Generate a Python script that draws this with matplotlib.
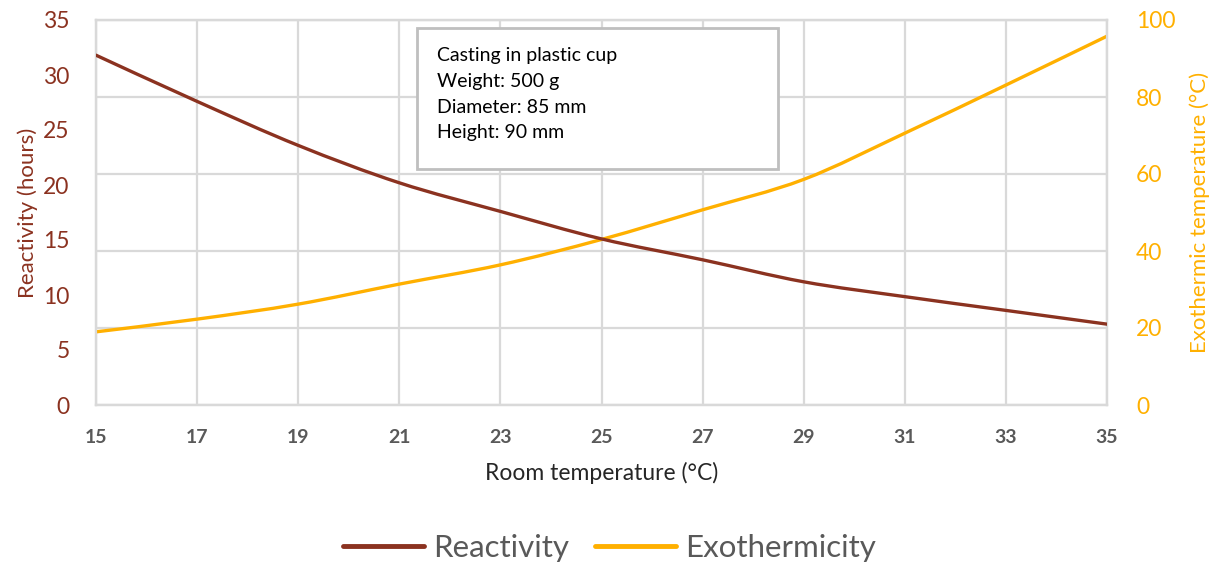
import matplotlib.pyplot as plt
import numpy as np
from matplotlib.path import Path
from matplotlib.patches import PathPatch, Rectangle
from matplotlib.lines import Line2D

# === Dati ===
room_temp = [15, 17, 19, 21, 23, 25, 27, 29, 31, 33, 35]
reactivity = [31.8, 27.6, 23.6, 20.2, 17.6, 15.1, 13.2, 11.2, 9.85, 8.6, 7.35]
exothermicity = [19.0, 22.3, 26.2, 31.4, 36.4, 43.0, 50.7, 58.6, 70.6, 83.1, 95.8]

left_ticks = [0, 5, 10, 15, 20, 25, 30, 35]
right_ticks = [0, 20, 40, 60, 80, 100]
x_ticks = [15, 17, 19, 21, 23, 25, 27, 29, 31, 33, 35]

info_text = "Casting in plastic cup\nWeight: 500 g\nDiameter: 85 mm\nHeight: 90 mm"

brown = "#8B3220"
gold = "#FFB000"
grid_col = "#d9d9d9"

plt.rcParams['font.family'] = ['Lato', 'DejaVu Sans']


def smooth_path(x, y):
    # linea "smussata" stile Excel (Catmull-Rom -> Bezier cubiche)
    x = np.asarray(x, float)
    y = np.asarray(y, float)
    verts = [(x[0], y[0])]
    codes = [Path.MOVETO]
    n = len(x)
    for i in range(n - 1):
        i0 = max(i - 1, 0)
        i3 = min(i + 2, n - 1)
        c1 = (x[i] + (x[i+1] - x[i0]) / 6, y[i] + (y[i+1] - y[i0]) / 6)
        c2 = (x[i+1] - (x[i3] - x[i]) / 6, y[i+1] - (y[i3] - y[i]) / 6)
        verts += [c1, c2, (x[i+1], y[i+1])]
        codes += [Path.CURVE4] * 3
    return Path(verts, codes)


fig = plt.figure(figsize=(12.19, 5.72), dpi=100)
ax = fig.add_axes([96/1219, 1-405/572, (1107-96)/1219, (405-20)/572])
ax2 = ax.twinx()

# ax2 sotto, con la griglia; ax sopra trasparente
ax.set_zorder(ax2.get_zorder() + 1)
ax.patch.set_visible(False)

ax2.add_patch(PathPatch(smooth_path(room_temp, exothermicity), fc='none',
                        ec=gold, lw=2.4, capstyle='round', zorder=3))
ax.add_patch(PathPatch(smooth_path(room_temp, reactivity), fc='none',
                       ec=brown, lw=2.4, capstyle='round', zorder=3))

ax.set_xlim(15, 35)
ax.set_ylim(0, 35)
ax2.set_ylim(0, 100)
ax.set_xticks(x_ticks)
ax.set_yticks(left_ticks)
ax2.set_yticks(right_ticks)

ax2.grid(True, axis='y', color=grid_col, lw=1.6)
ax2.set_axisbelow(True)
ax.grid(False)
for xv in x_ticks:
    ax2.axvline(xv, color=grid_col, lw=1.6, zorder=0)

for a in (ax, ax2):
    for s in a.spines.values():
        s.set_color(grid_col)
        s.set_linewidth(1.6)
    a.tick_params(length=0)

ax.tick_params(axis='y', colors=brown, labelsize=16.5, pad=19)
ax2.tick_params(axis='y', colors=gold, labelsize=16.5, pad=21)
ax.tick_params(axis='x', labelsize=14, pad=17, labelcolor="#595959")
for lab in ax.get_xticklabels():
    lab.set_fontweight('bold')

ax.set_ylabel("Reactivity (hours)", color=brown, fontsize=16, labelpad=4)
ax2.set_ylabel("Exothermic temperature (°C)", color=gold, fontsize=16, labelpad=10)
ax.set_xlabel("Room temperature (°C)", color="#262626", fontsize=16.5, labelpad=12)

# Riquadro con le condizioni di prova
ax.add_patch(Rectangle((0.3175, 0.613), 0.357, 0.366, transform=ax.transAxes,
                       fc='white', ec='#bfbfbf', lw=2, zorder=5))
ax.text(0.337, 0.929, info_text, transform=ax.transAxes, fontsize=14,
        va='top', ha='left', linespacing=1.62, color="#000000", zorder=6)

handles = [Line2D([], [], color=brown, lw=3.5, solid_capstyle='round'),
           Line2D([], [], color=gold, lw=3.5, solid_capstyle='round')]
leg = fig.legend(handles, ["Reactivity", "Exothermicity"], loc='center',
                 bbox_to_anchor=(0.5, 0.042), ncol=2, frameon=False, fontsize=22.5,
                 handlelength=2.6, handletextpad=0.3, columnspacing=0.8)
for t in leg.get_texts():
    t.set_color("#595959")

plt.savefig("out.png", dpi=100)
